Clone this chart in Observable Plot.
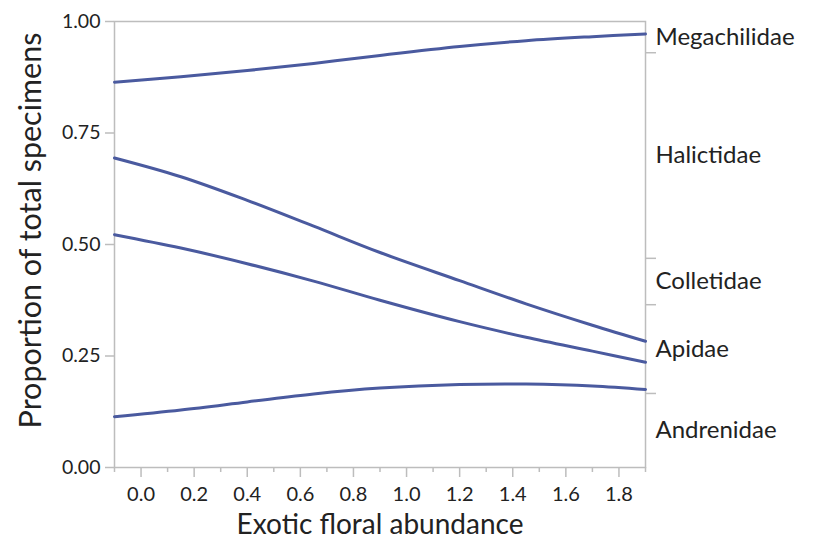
<!DOCTYPE html>
<html>
<head>
<meta charset="utf-8">
<script src="https://cdn.jsdelivr.net/npm/d3@7"></script>
<script src="https://cdn.jsdelivr.net/npm/@observablehq/plot@0.6"></script>
<style>
  html, body { margin: 0; padding: 0; background: #fff; }
  #chart svg { font-family: Lato, "Open Sans", sans-serif; }
</style>
</head>
<body>
<div id="chart"></div>
<script>
// Exotic floral abundance sample positions
const xValues = [-0.1, 0.15, 0.4, 0.65, 0.9, 1.2, 1.45, 1.7, 1.9];
// Cumulative probability curves (boundaries between families)
const megachilidaeBoundary = [0.864, 0.876, 0.890, 0.906, 0.924, 0.944, 0.957, 0.966, 0.972];
const halictidaeBoundary   = [0.694, 0.652, 0.599, 0.541, 0.482, 0.419, 0.367, 0.319, 0.283];
const colletidaeBoundary   = [0.522, 0.492, 0.457, 0.418, 0.375, 0.327, 0.292, 0.261, 0.236];
const apidaeBoundary       = [0.114, 0.129, 0.147, 0.165, 0.178, 0.186, 0.187, 0.183, 0.175];

// Right-axis family bands (cumulative, from bottom)
const families = ["Andrenidae", "Apidae", "Colletidae", "Halictidae", "Megachilidae"];
const familyBreaks = [0, 0.166, 0.365, 0.469, 0.930, 1];

const yTicks = [0, 0.25, 0.5, 0.75, 1];
const xMajorTicks = [0, 0.2, 0.4, 0.6, 0.8, 1.0, 1.2, 1.4, 1.6, 1.8];
const xMinorTicks = [-0.1, 0.1, 0.3, 0.5, 0.7, 0.9, 1.1, 1.3, 1.5, 1.7, 1.9];

const xLabel = "Exotic floral abundance";
const yLabel = "Proportion of total specimens";

const seriesList = [
  ["Megachilidae", megachilidaeBoundary],
  ["Halictidae", halictidaeBoundary],
  ["Colletidae", colletidaeBoundary],
  ["Apidae", apidaeBoundary]
];
const rows = seriesList.flatMap(([name, vals]) => vals.map((v, i) => ({series: name, x: xValues[i], y: v})));

const labelRows = families.map((f, i) => ({name: f, y: (familyBreaks[i] + familyBreaks[i + 1]) / 2}));
const innerBreaks = familyBreaks.slice(1, -1);

const axisColor = "#bdbdbd";
const textColor = "#222";
const lineColor = "#4a5a9f";

const chart = Plot.plot({
  width: 817,
  height: 544,
  marginLeft: 114,
  marginRight: 172,
  marginTop: 21,
  marginBottom: 77,
  style: {background: "#fff", color: textColor},
  x: {domain: [-0.1, 1.9], label: null},
  y: {domain: [0, 1], label: null},
  marks: [
    Plot.frame({stroke: axisColor, strokeWidth: 1.5}),
    Plot.axisY({ticks: yTicks, tickFormat: d3.format(".2f"), tickSize: 9, tickPadding: 5, fontSize: 19.5, stroke: axisColor, strokeWidth: 1.5, label: null}),
    Plot.axisY({anchor: "right", ticks: innerBreaks, tickSize: 10, tickFormat: () => "", stroke: axisColor, strokeWidth: 1.5, label: null}),
    Plot.axisX({ticks: xMajorTicks, tickFormat: d3.format(".1f"), tickSize: 10, tickPadding: 9, fontSize: 20, stroke: axisColor, strokeWidth: 1.5, label: null}),
    Plot.axisX({ticks: xMinorTicks, tickSize: 5, tickFormat: () => "", stroke: axisColor, strokeWidth: 1.5, label: null}),
    Plot.line(rows, {x: "x", y: "y", z: "series", stroke: lineColor, strokeWidth: 3, curve: "catmull-rom"}),
    Plot.text(labelRows, {x: () => 1.9, y: "y", text: "name", textAnchor: "start", dx: 10, fontSize: 24, fill: textColor}),
    Plot.text([yLabel], {frameAnchor: "left", textAnchor: "middle", dx: -83, dy: -14, rotate: -90, fontSize: 30.5, fill: textColor}),
    Plot.text([xLabel], {frameAnchor: "bottom", textAnchor: "middle", dy: 66, fontSize: 28, fill: textColor})
  ]
});
document.getElementById("chart").appendChild(chart);
</script>
</body>
</html>
